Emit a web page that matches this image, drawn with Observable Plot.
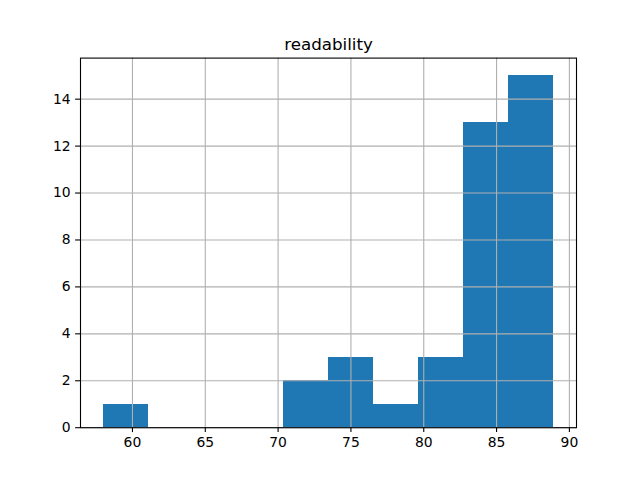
<!DOCTYPE html>
<html>
<head>
<meta charset="utf-8">
<script src="https://cdn.jsdelivr.net/npm/d3@7"></script>
<script src="https://cdn.jsdelivr.net/npm/@observablehq/plot@0.6"></script>
<style>
  html, body { margin: 0; padding: 0; background: #fff; }
  svg { display: block; }
</style>
</head>
<body>
<div id="chart"></div>
<script>
const title = "readability";
const binEdges = [57.98, 61.08, 64.17, 67.27, 70.36, 73.46, 76.55, 79.65, 82.75, 85.84, 88.94];
const counts = [1, 0, 0, 0, 2, 3, 1, 3, 13, 15];
const xTicks = [60, 65, 70, 75, 80, 85, 90];
const yTicks = [0, 2, 4, 6, 8, 10, 12, 14];

const bins = counts.map((c, i) => ({x1: binEdges[i], x2: binEdges[i + 1], count: c}));

const span = binEdges[binEdges.length - 1] - binEdges[0];
const xDomain = [binEdges[0] - 0.05 * span, binEdges[binEdges.length - 1] + 0.05 * span];
const yMax = d3.max(counts) * 1.05;

const chart = Plot.plot({
  width: 640,
  height: 480,
  marginLeft: 80,
  marginRight: 64,
  marginTop: 57.6,
  marginBottom: 52.8,
  style: {fontFamily: "DejaVu Sans", fontSize: "13.9px", color: "#000", background: "#fff"},
  x: {domain: xDomain, ticks: xTicks},
  y: {domain: [0, yMax], ticks: yTicks},
  marks: [
    Plot.rect(bins, {x1: "x1", x2: "x2", y1: 0, y2: "count", fill: "#1f77b4", inset: 0, shapeRendering: "crispEdges"}),
    Plot.gridX(xTicks, {stroke: "#b0b0b0", strokeOpacity: 1, strokeWidth: 1.1}),
    Plot.gridY(yTicks, {stroke: "#b0b0b0", strokeOpacity: 1, strokeWidth: 1.1}),
    Plot.frame({stroke: "#000", strokeWidth: 1.1}),
    Plot.axisX(xTicks, {tickSize: 4.9, tickPadding: 4.9, strokeWidth: 1.1, label: null, fontSize: 13.9}),
    Plot.axisY(yTicks, {tickSize: 4.9, tickPadding: 4.9, strokeWidth: 1.1, label: null, fontSize: 13.9}),
    Plot.text([title], {frameAnchor: "top", text: d => d, dy: -8.3, lineAnchor: "bottom", fontSize: 16.7, fill: "#000"})
  ]
});
document.getElementById("chart").appendChild(chart);
</script>
</body>
</html>
